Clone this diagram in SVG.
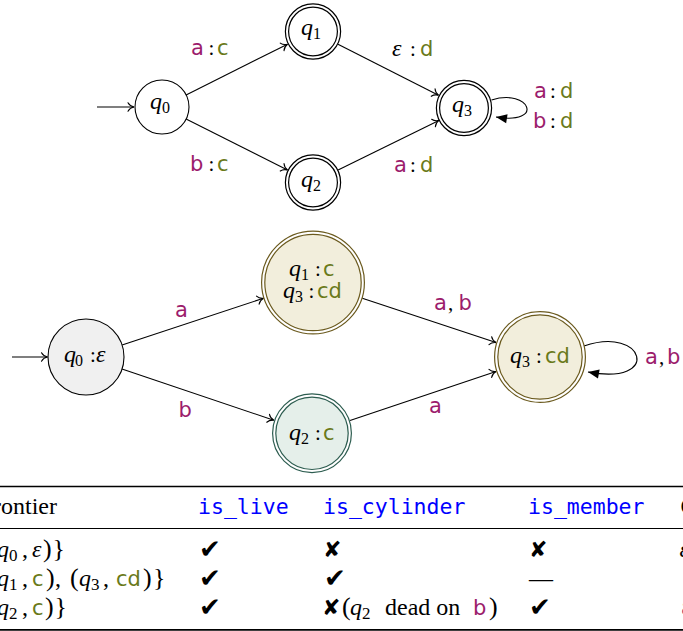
<svg xmlns="http://www.w3.org/2000/svg" width="683" height="631" viewBox="0 0 683 631">
<style>
  .edge{fill:none;stroke:#000;stroke-width:1.1}
  .qi{font-family:"Liberation Serif",serif;font-style:italic;font-size:24px}
  .sb{font-family:"Liberation Serif",serif;font-style:normal;font-size:16px}
  .sb2{font-family:"Liberation Serif",serif;font-style:normal;font-size:17px}
  .rm{font-family:"Liberation Serif",serif;font-size:24px;fill:#000}
  .pr{font-family:"Liberation Serif",serif;font-size:26px}
  .cl{font-family:"Liberation Serif",serif;font-size:21px}
  .sf{font-family:"DejaVu Sans",sans-serif;font-size:21px}
  .mg{fill:#9c1c6c}
  .ol{fill:#6a7a1a}
  .tt{font-family:"DejaVu Sans Mono",monospace;font-size:21.5px;fill:#0000ff}
  .ck{font-family:"DejaVu Sans",sans-serif;font-size:26px;fill:#000}
  .cx{font-family:"DejaVu Sans",sans-serif;font-size:22px;fill:#000}
  .ring{fill:#fff;stroke:#000;stroke-width:4.4}
  .gap{fill:none;stroke:#fff;stroke-width:2}
  .rule{stroke:#000}
</style>
<defs>
  <marker id="to" viewBox="-8 -6 10 12" markerWidth="10" markerHeight="12" refX="0" refY="0" orient="auto" markerUnits="userSpaceOnUse">
    <path d="M-6,-4.2 C-4.5,-1.6 -2,-0.4 0,0 C-2,0.4 -4.5,1.6 -6,4.2" fill="none" stroke="#000" stroke-width="1.1" stroke-linecap="round"/>
  </marker>
  <marker id="tri" viewBox="-12 -6 13 12" markerWidth="13" markerHeight="12" refX="0" refY="0" orient="auto" markerUnits="userSpaceOnUse">
    <path d="M-11,-4.5 L0,0 L-11,4.5 Z" fill="#000"/>
  </marker>
</defs>

<!-- transducer: edges and labels -->
<g id="connectors">
  <path class="edge" d="M97,107 L134,107" marker-end="url(#to)"/>
  <path class="edge" d="M186.1,94.9 L287.5,44.2" marker-end="url(#to)"/>
  <path class="edge" d="M186.1,119.1 L287.5,170" marker-end="url(#to)"/>
  <path class="edge" d="M338,44.2 L438.5,95.3" marker-end="url(#to)"/>
  <path class="edge" d="M338.1,170.1 L438.9,120.4" marker-end="url(#to)"/>
  <path class="edge" d="M491.5,100 C530,88 545,125 496,117" marker-end="url(#tri)"/>

  <text y="55"><tspan class="sf mg" x="191">a</tspan><tspan class="cl" x="208.5">:</tspan><tspan class="sf ol" x="217">c</tspan></text>
  <text y="171"><tspan class="sf mg" x="190">b</tspan><tspan class="cl" x="208.5">:</tspan><tspan class="sf ol" x="217">c</tspan></text>
  <text y="56"><tspan class="qi" x="392">ε</tspan><tspan class="cl" x="410">:</tspan><tspan class="sf ol" x="420">d</tspan></text>
  <text y="172"><tspan class="sf mg" x="394">a</tspan><tspan class="cl" x="410">:</tspan><tspan class="sf ol" x="420">d</tspan></text>
  <text y="98"><tspan class="sf mg" x="534">a</tspan><tspan class="cl" x="550">:</tspan><tspan class="sf ol" x="560">d</tspan></text>
  <text y="128"><tspan class="sf mg" x="533">b</tspan><tspan class="cl" x="550">:</tspan><tspan class="sf ol" x="560">d</tspan></text>

  <!-- product automaton -->
  <path class="edge" d="M12,357 L47.5,357" marker-end="url(#to)"/>
  <path class="edge" d="M122.1,345.1 L263.5,298.3" marker-end="url(#to)"/>
  <path class="edge" d="M122,369.1 L273.8,420.2" marker-end="url(#to)"/>
  <path class="edge" d="M362.3,298.3 L496,342.6" marker-end="url(#to)"/>
  <path class="edge" d="M350,420.4 L496,371.5" marker-end="url(#to)"/>
  <path class="edge" d="M584,346 C645,325 662,386 588,372" marker-end="url(#tri)"/>

  <text class="sf mg" x="175" y="317">a</text>
  <text class="sf mg" x="178.5" y="417">b</text>
  <text y="310"><tspan class="sf mg" x="434">a</tspan><tspan class="cl" x="448">,</tspan><tspan class="sf mg" x="458.5">b</tspan></text>
  <text class="sf mg" x="429" y="413">a</text>
  <text y="364"><tspan class="sf mg" x="645">a</tspan><tspan class="cl" x="659">,</tspan><tspan class="sf mg" x="667">b</tspan></text>
</g>

<!-- transducer states -->
<g id="t-q0">
  <circle cx="162" cy="107" r="27" fill="#fff" stroke="#000" stroke-width="1.1"/>
  <text x="150" y="108.5"><tspan class="qi">q</tspan><tspan class="sb" dy="4">0</tspan></text>
</g>
<g id="t-q1">
  <circle class="ring" cx="313" cy="31.5" r="26"/><circle class="gap" cx="313" cy="31.5" r="26"/>
  <text x="301" y="35"><tspan class="qi">q</tspan><tspan class="sb" dy="4">1</tspan></text>
</g>
<g id="t-q2">
  <circle class="ring" cx="313" cy="182.5" r="26"/><circle class="gap" cx="313" cy="182.5" r="26"/>
  <text x="301" y="187"><tspan class="qi">q</tspan><tspan class="sb" dy="4">2</tspan></text>
</g>
<g id="t-q3">
  <circle class="ring" cx="464" cy="108" r="26"/><circle class="gap" cx="464" cy="108" r="26"/>
  <text x="452" y="112"><tspan class="qi">q</tspan><tspan class="sb" dy="4">3</tspan></text>
</g>

<!-- product states -->
<g id="p-q0">
  <circle cx="86" cy="357" r="38" fill="#f0f0f0" stroke="#000" stroke-width="1.1"/>
  <text y="362"><tspan class="qi" x="64">q</tspan><tspan class="sb" x="75" dy="4">0</tspan><tspan class="cl" x="90" dy="-4">:</tspan><tspan class="qi" x="96">ε</tspan></text>
</g>
<g id="p-q13">
  <circle cx="313" cy="282.5" r="49.8" fill="#f2eedc" stroke="#6b5a1e" stroke-width="4.4"/><circle class="gap" cx="313" cy="282.5" r="49.8"/>
  <text y="276"><tspan class="qi" x="289">q</tspan><tspan class="sb" x="301" dy="4">1</tspan><tspan class="cl" x="315" dy="-4">:</tspan><tspan class="sf ol" x="323">c</tspan></text>
  <text y="298"><tspan class="qi" x="283">q</tspan><tspan class="sb" x="295" dy="4">3</tspan><tspan class="cl" x="308.5" dy="-4">:</tspan><tspan class="sf ol" x="317">cd</tspan></text>
</g>
<g id="p-q2">
  <circle cx="312" cy="433.3" r="37.8" fill="#e5efea" stroke="#2d5d50" stroke-width="4.4"/><circle class="gap" cx="312" cy="433.3" r="37.8"/>
  <text y="440"><tspan class="qi" x="289">q</tspan><tspan class="sb" x="301" dy="4">2</tspan><tspan class="cl" x="315" dy="-4">:</tspan><tspan class="sf ol" x="323">c</tspan></text>
</g>
<g id="p-q3">
  <circle cx="540" cy="357" r="43.8" fill="#f2eedc" stroke="#6b5a1e" stroke-width="4.4"/><circle class="gap" cx="540" cy="357" r="43.8"/>
  <text y="363"><tspan class="qi" x="510">q</tspan><tspan class="sb" x="522" dy="4">3</tspan><tspan class="cl" x="536" dy="-4">:</tspan><tspan class="sf ol" x="545">cd</tspan></text>
</g>

<!-- frontier table -->
<g id="table">
  <line class="rule" x1="0" y1="486.5" x2="683" y2="486.5" stroke-width="1.7"/>
  <line class="rule" x1="0" y1="528.5" x2="683" y2="528.5" stroke-width="1"/>
  <line class="rule" x1="0" y1="629.8" x2="683" y2="629.8" stroke-width="1.7"/>

  <text class="rm" x="57" y="514" text-anchor="end">Frontier</text>
  <text class="tt" x="198" y="514">is_live</text>
  <text class="tt" x="323" y="514">is_cylinder</text>
  <text class="tt" x="528" y="514">is_member</text>
  <text class="rm" x="680.5" y="514">O</text>

  <!-- frontier sets -->
  <text y="557"><tspan class="pr" x="-25">{(</tspan><tspan class="qi" x="-3">q</tspan><tspan class="sb2" x="9" dy="4">0</tspan><tspan class="rm" x="22" dy="-4">,</tspan><tspan class="qi" x="32">ε</tspan><tspan class="pr" x="43">)</tspan><tspan class="pr" x="52.5">}</tspan></text>
  <text y="586"><tspan class="pr" x="-25">{(</tspan><tspan class="qi" x="-3">q</tspan><tspan class="sb2" x="9" dy="4">1</tspan><tspan class="rm" x="22" dy="-4">,</tspan><tspan class="sf ol" x="32">c</tspan><tspan class="pr" x="46">)</tspan><tspan class="rm" x="55">,</tspan><tspan class="pr" x="70">(</tspan><tspan class="qi" x="79">q</tspan><tspan class="sb2" x="91" dy="4">3</tspan><tspan class="rm" x="103" dy="-4">,</tspan><tspan class="sf ol" x="116">cd</tspan><tspan class="pr" x="143">)</tspan><tspan class="pr" x="153">}</tspan></text>
  <text y="615"><tspan class="pr" x="-25">{(</tspan><tspan class="qi" x="-3">q</tspan><tspan class="sb2" x="9" dy="4">2</tspan><tspan class="rm" x="22" dy="-4">,</tspan><tspan class="sf ol" x="32">c</tspan><tspan class="pr" x="45">)</tspan><tspan class="pr" x="54.5">}</tspan></text>

  <text class="ck" x="199" y="558">✔</text>
  <text class="ck" x="199" y="587">✔</text>
  <text class="ck" x="199" y="616">✔</text>

  <text class="cx" x="323" y="557">✘</text>
  <text class="ck" x="324" y="587">✔</text>
  <text class="cx" x="322" y="615">✘</text>
  <text y="615"><tspan class="pr" x="342">(</tspan><tspan class="qi" x="350">q</tspan><tspan class="sb2" x="362" dy="4">2</tspan><tspan class="rm" x="385" dy="-4">dead on</tspan><tspan class="sf mg" x="473">b</tspan><tspan class="pr" x="489">)</tspan></text>

  <text class="cx" x="529" y="557">✘</text>
  <text class="rm" x="529" y="586" fill="#333">—</text>
  <text class="ck" x="529" y="616">✔</text>

  <text class="qi" x="679.5" y="557">ε</text>
  <text class="sf mg" x="681" y="615">a</text>
</g>
</svg>
